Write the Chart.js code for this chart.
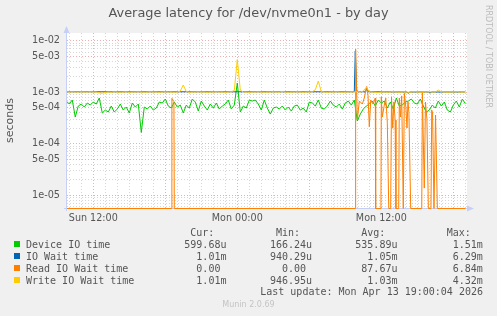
<!DOCTYPE html>
<html><head><meta charset="utf-8">
<script src="https://cdn.jsdelivr.net/npm/chart.js@4.4.1/dist/chart.umd.min.js"></script>
<style>
html,body{margin:0;padding:0;background:#f0f0f0;}
#wrap{position:relative;width:497px;height:316px;overflow:hidden;background:#f0f0f0;}
#c{position:absolute;left:0;top:0;}
.t{position:absolute;white-space:pre;line-height:1;margin:0;}
.mono{font-family:"DejaVu Sans Mono",monospace;font-size:10px;color:#555;}
.box{position:absolute;width:6px;height:6px;}
</style></head>
<body>
<div id="wrap">
<canvas id="c" width="497" height="316"></canvas>
<div class="t" id="title" style="left:0;width:497px;text-align:center;top:7.3px;font-family:'DejaVu Sans';font-size:12.9px;color:#555;">Average latency for /dev/nvme0n1 - by day</div>
<div class="t" id="wm" style="left:484px;top:5px;writing-mode:vertical-rl;font-family:'DejaVu Sans';font-size:8px;color:#bbb;">RRDTOOL / TOBI OETIKER</div>
<div id="legend"></div>
<div class="t mono" style="right:14px;top:287.3px;">Last update: Mon Apr 13 19:00:04 2026</div>
<div class="t" style="left:0;width:497px;text-align:center;top:300.7px;font-family:'DejaVu Sans';font-size:8px;color:#c4c4c4;">Munin 2.0.69</div>
</div>
<script>
// ---- time axis (hours relative to Sun 12:00) ----
const sampleHours = [-2.25,-2,-1.75,-1.5,-1.25,-1,-0.75,-0.5,-0.25,
0,0.25,0.5,0.75,1,1.25,1.5,1.75,2,2.25,2.5,2.75,3,3.25,3.5,3.75,
4,4.25,4.5,4.75,5,5.25,5.5,5.75,6,6.25,6.5,6.75,7,7.25,7.5,7.75,
8,8.25,8.5,8.75,9,9.25,9.5,9.75,10,10.25,10.5,10.75,11,11.25,11.5,11.75,
12,12.25,12.5,12.75,13,13.25,13.5,13.75,14,14.25,14.5,14.75,15,15.25,15.5,15.75,
16,16.25,16.5,16.75,17,17.25,17.5,17.75,18,18.25,18.5,18.75,19,19.25,19.5,19.75,
20,20.25,20.5,20.75,21,21.25,21.5,21.75,22,22.25,22.5,22.75,23,23.25,23.5,23.75,
24,24.25,24.5,24.75,25,25.25,25.5,25.75,26,26.25,26.5,26.75,27,27.25,27.5,27.75,
28,28.25,28.5,28.75,29,29.25,29.5,29.75,30,30.25,30.5,30.75,31];

// ---- series values (seconds) ----
const deviceIO = [
6.75e-4,5.90e-4,7.06e-4,3.30e-4,5.40e-4,5.90e-4,5.16e-4,6.17e-4,5.64e-4,6.45e-4,
5.90e-4,7.72e-4,3.95e-4,4.51e-4,4.12e-4,5.40e-4,4.12e-4,4.72e-4,5.90e-4,4.51e-4,
5.16e-4,3.95e-4,6.17e-4,5.16e-4,5.90e-4,1.66e-4,5.16e-4,4.72e-4,5.40e-4,4.51e-4,
4.93e-4,6.45e-4,6.17e-4,7.38e-4,5.40e-4,4.93e-4,6.45e-4,5.16e-4,5.64e-4,3.95e-4,
5.64e-4,4.93e-4,7.38e-4,6.45e-4,4.32e-4,6.75e-4,5.40e-4,4.51e-4,5.90e-4,4.93e-4,
6.17e-4,4.72e-4,5.40e-4,5.90e-4,7.06e-4,4.72e-4,5.64e-4,1.51e-3,4.12e-4,5.40e-4,
4.93e-4,7.06e-4,6.75e-4,7.06e-4,5.90e-4,4.51e-4,7.06e-4,4.93e-4,3.77e-4,4.93e-4,
5.16e-4,4.72e-4,5.40e-4,4.51e-4,5.16e-4,4.32e-4,5.40e-4,5.64e-4,4.51e-4,4.93e-4,
4.12e-4,6.45e-4,6.17e-4,5.40e-4,7.06e-4,4.93e-4,4.72e-4,5.40e-4,6.75e-4,5.64e-4,
5.16e-4,5.90e-4,4.72e-4,6.17e-4,6.75e-4,5.64e-4,7.06e-4,2.76e-4,3.77e-4,4.72e-4,
5.40e-4,5.90e-4,6.75e-4,5.40e-4,7.06e-4,6.17e-4,6.75e-4,4.93e-4,6.45e-4,4.72e-4,
7.72e-4,5.40e-4,5.64e-4,6.45e-4,6.75e-4,7.38e-4,6.17e-4,5.90e-4,7.38e-4,5.40e-4,
4.12e-4,4.51e-4,5.64e-4,4.93e-4,6.75e-4,5.40e-4,6.45e-4,4.51e-4,4.12e-4,5.64e-4,
6.75e-4,5.16e-4,7.38e-4,6.00e-4];

const writeIOWait = [
1.02e-3,1.01e-3,1.02e-3,1.01e-3,1.01e-3,1.02e-3,1.01e-3,1.01e-3,1.02e-3,1.01e-3,
1.01e-3,9.7e-4,9.6e-4,9.9e-4,1.01e-3,1.0e-3,1.02e-3,1.01e-3,1.0e-3,1.01e-3,
1.02e-3,1.0e-3,1.01e-3,1.01e-3,1.02e-3,1.01e-3,1.0e-3,1.01e-3,1.02e-3,1.01e-3,
1.01e-3,1.0e-3,1.01e-3,1.02e-3,1.01e-3,1.01e-3,1.0e-3,1.01e-3,1.05e-3,1.38e-3,
1.03e-3,1.0e-3,1.01e-3,1.01e-3,1.02e-3,1.01e-3,1.01e-3,1.0e-3,1.01e-3,1.01e-3,
1.02e-3,1.01e-3,1.01e-3,1.0e-3,1.01e-3,1.02e-3,1.08e-3,4.32e-3,1.1e-3,1.01e-3,
1.01e-3,1.0e-3,1.01e-3,1.01e-3,1.02e-3,1.01e-3,1.0e-3,1.01e-3,1.01e-3,1.02e-3,
1.01e-3,1.01e-3,1.03e-3,1.01e-3,1.0e-3,1.01e-3,1.01e-3,1.02e-3,1.01e-3,1.0e-3,
1.01e-3,1.01e-3,1.02e-3,1.12e-3,1.65e-3,1.02e-3,1.01e-3,1.0e-3,1.01e-3,1.01e-3,
1.02e-3,1.01e-3,1.0e-3,1.01e-3,1.01e-3,1.02e-3,1.01e-3,1.03e-3,1.01e-3,1.05e-3,
1.25e-3,1.02e-3,1.01e-3,1.0e-3,9.8e-4,1.01e-3,1.01e-3,1.0e-3,1.01e-3,1.02e-3,
1.01e-3,1.0e-3,1.01e-3,1.01e-3,1.0e-3,1.01e-3,1.02e-3,1.01e-3,1.0e-3,1.01e-3,
1.01e-3,1.02e-3,1.01e-3,1.01e-3,1.1e-3,1.02e-3,1.01e-3,1.0e-3,1.01e-3,1.01e-3,
1.02e-3,1.01e-3,1.0e-3,1.01e-3];

const ioWaitHours  = [-2.25,21.75,21.83,21.95,22.1,22.7,22.78,22.9,26.15,26.25,26.35,28.0,28.08,28.16,31];
const ioWaitValues = [1.02e-3,1.02e-3,6.29e-3,1.06e-3,1.02e-3,1.02e-3,1.22e-3,1.02e-3,1.01e-3,9.5e-4,1.01e-3,1.01e-3,9.6e-4,1.01e-3,1.01e-3];

const readWaitHours = [-2.25,
6.53,6.55,6.72,6.75,
21.83,21.86,22.0,22.17,22.42,22.58,22.78,22.89,23.0,23.12,23.31,23.5,23.53,
23.97,24.0,24.08,24.25,24.37,24.5,24.62,
24.78,24.85,24.95,25.05,25.15,25.22,
25.45,25.5,25.6,25.7,25.83,25.92,26.05,26.14,26.22,26.3,26.45,
27.37,27.42,27.58,27.68,27.8,27.92,
28.14,28.2,28.27,28.39,28.52,28.67,
31];
const readWaitValues = [0,
0,7.6e-4,6.6e-4,0,
0,6.84e-3,2.89e-4,6.75e-4,5.9e-4,7.72e-4,1.29e-3,8.8e-4,2.14e-4,7.06e-4,5.9e-4,7.72e-4,0,
0,8.07e-4,3.3e-4,5.64e-4,7.72e-4,2.63e-4,0,
0,8.18e-4,2.0e-4,6.5e-4,2.9e-4,0,
0,7.7e-4,3.3e-4,8.5e-4,0,9.53e-4,5.0e-4,2.02e-4,6.54e-4,4.0e-4,0,
0,1.02e-3,1.38e-5,6.45e-4,3.0e-4,0,
0,4.51e-4,3.95e-4,0,3.61e-4,0,
0];

// ---- axis ticks ----
const xGridHours = [-2,-1,0,1,2,3,4,5,6,7,8,9,10,11,12,13,14,15,16,17,18,19,20,21,22,23,24,25,26,27,28,29,30,31];
const xMajorHours = [0,6,12,18,24,30];
const xLabelHours = [0,12,24];
const xLabels = ['Sun 12:00','Mon 00:00','Mon 12:00'];
const yLabelValues = [1e-5,5e-5,1e-4,5e-4,1e-3,5e-3,1e-2];
const yLabels = ['1e-05','5e-05','1e-04','5e-04','1e-03','5e-03','1e-02'];
const yMinorValues = [6e-6,7e-6,8e-6,9e-6,2e-5,3e-5,4e-5,6e-5,7e-5,8e-5,9e-5,
2e-4,3e-4,4e-4,6e-4,7e-4,8e-4,9e-4,2e-3,3e-3,4e-3,6e-3,7e-3,8e-3,9e-3];

// ---- legend ----
const seriesNames = ['Device IO time','IO Wait time','Read IO Wait time','Write IO Wait time'];
const seriesColors = ['#00cc00','#0066b3','#ff8000','#ffcc00'];
const curText = ['599.68u','  1.01m','  0.00','  1.01m'];
const minText = ['166.24u','940.29u','  0.00','946.95u'];
const avgText = ['535.89u','  1.05m',' 87.67u','  1.03m'];
const maxText = ['  1.51m','  6.29m','  6.84m','  4.32m'];

const yMin = 5.67e-6, yMax = 1.4104e-2;
const xMin = -2.19, xMax = 31.14;
// zero values sit on the bottom edge of the plot (one pixel row, like rrdtool)
const zeroLevel = yMin * 0.978;

const RED = 'rgba(228,120,120,0.6)';
const GREY = 'rgba(165,165,165,0.45)';
const AXIS = '#c6cff6';

// legend DOM
(function(){
  const L = document.getElementById('legend');
  const cols = [184.3, 270, 355.3, 440.7];
  const heads = ['Cur:','Min:','Avg:','Max:'];
  const colTexts = [curText, minText, avgText, maxText];
  function add(txt, left, top){
    const d = document.createElement('div');
    d.className = 't mono'; d.textContent = txt;
    d.style.left = left + 'px'; d.style.top = top + 'px';
    L.appendChild(d);
  }
  heads.forEach((h,i)=>add(h, cols[i]+6, 228.2));
  seriesNames.forEach((n,r)=>{
    const top = 240 + 12*r;
    const b = document.createElement('div');
    b.className = 'box'; b.style.background = seriesColors[r];
    b.style.left = '14px'; b.style.top = (241 + 12*r) + 'px';
    L.appendChild(b);
    add(n, 26, top);
    colTexts.forEach((ct,i)=>add(ct[r], cols[i], top));
  });
})();

const shown = v => (v > 0 ? v : zeroLevel);
const pts = (hs, vs) => hs.map((h,i)=>({x:h, y:shown(vs[i])}));

function isMajorY(v){
  for (const m of yLabelValues) if (Math.abs(v/m - 1) < 1e-6) return true;
  return false;
}

const plotBg = {
  id:'plotBg',
  beforeDraw(chart){
    const {ctx, chartArea:a} = chart;
    ctx.save(); ctx.fillStyle = '#ffffff';
    ctx.fillRect(a.left, a.top, a.right-a.left, a.bottom-a.top);
    ctx.restore();
  },
  beforeDatasetsDraw(chart){
    const {ctx, chartArea:a} = chart;
    ctx.save();
    ctx.strokeStyle = AXIS; ctx.fillStyle = AXIS; ctx.lineWidth = 1;
    ctx.beginPath();
    ctx.moveTo(a.left - 3, a.bottom + 0.5); ctx.lineTo(a.right + 2, a.bottom + 0.5);
    ctx.moveTo(a.left - 0.5, a.bottom + 3); ctx.lineTo(a.left - 0.5, a.top - 1);
    ctx.stroke();
    ctx.beginPath();
    ctx.moveTo(a.right + 7, a.bottom + 0.5);
    ctx.lineTo(a.right, a.bottom - 2.5);
    ctx.lineTo(a.right, a.bottom + 3.5);
    ctx.closePath(); ctx.fill();
    ctx.beginPath();
    ctx.moveTo(a.left - 0.5, a.top - 7);
    ctx.lineTo(a.left - 3.5, a.top);
    ctx.lineTo(a.left + 2.5, a.top);
    ctx.closePath(); ctx.fill();
    ctx.restore();
  }
};

const clipBox = {left:0, top:1, right:0, bottom:1};

new Chart(document.getElementById('c'), {
  type:'line',
  data:{
    datasets:[
      {label:seriesNames[0], data:pts(sampleHours, deviceIO), borderColor:seriesColors[0], order:3, clip:clipBox},
      {label:seriesNames[1], data:pts(ioWaitHours, ioWaitValues), borderColor:seriesColors[1], order:2, clip:clipBox},
      {label:seriesNames[2], data:pts(readWaitHours, readWaitValues), borderColor:seriesColors[2], order:1, clip:clipBox},
      {label:seriesNames[3], data:pts(sampleHours, writeIOWait), borderColor:seriesColors[3], order:0, clip:clipBox}
    ]
  },
  options:{
    responsive:false, animation:false, devicePixelRatio:1,
    layout:{padding:{top:33,right:30,bottom:0,left:0}},
    elements:{point:{radius:0,hoverRadius:0}, line:{borderWidth:1,tension:0}},
    plugins:{legend:{display:false}, title:{display:false}, tooltip:{enabled:false}},
    events:[],
    scales:{
      x:{
        type:'linear', min:xMin, max:xMax, bounds:'data',
        afterFit(s){ s.height = 108; },
        afterBuildTicks(s){ s.ticks = xGridHours.map(v=>({value:v})); },
        ticks:{
          autoSkip:false, maxRotation:0, minRotation:0, padding:5,
          color:'#555', font:{family:'DejaVu Sans', size:9.6},
          callback(v){ const i = xLabelHours.indexOf(v); return i >= 0 ? xLabels[i] : ''; }
        },
        grid:{drawTicks:false, lineWidth:1,
          color(ctx){ return ctx.tick && xMajorHours.includes(ctx.tick.value) ? RED : GREY; }},
        border:{display:false, dash:[1,2]}
      },
      y:{
        type:'logarithmic', min:yMin, max:yMax, bounds:'data',
        afterFit(s){ s.width = 67; },
        afterBuildTicks(s){
          s.ticks = yMinorValues.concat(yLabelValues).sort((a,b)=>a-b).map(v=>({value:v}));
        },
        ticks:{
          autoSkip:false, padding:7, color:'#555', font:{family:'DejaVu Sans', size:9.7},
          callback(v){
            for (let i=0;i<yLabelValues.length;i++) if (Math.abs(v/yLabelValues[i]-1)<1e-6) return yLabels[i];
            return '';
          }
        },
        grid:{drawTicks:false, lineWidth:1,
          color(ctx){ return ctx.tick && isMajorY(ctx.tick.value) ? RED : GREY; }},
        border:{display:false, dash:[1,2]},
        title:{display:true, text:'seconds', color:'#555', font:{family:'DejaVu Sans', size:11}, padding:{top:4,bottom:4}}
      }
    }
  },
  plugins:[plotBg]
});
</script>
</body></html>
